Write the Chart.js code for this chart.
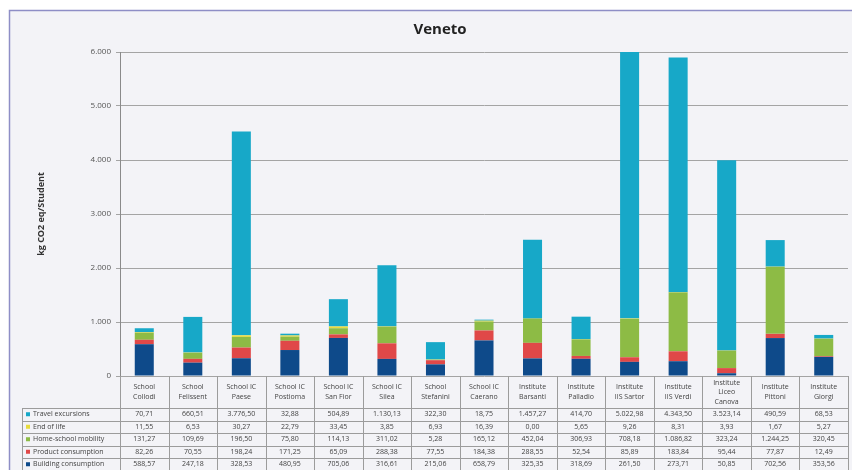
<!DOCTYPE html>
<html>
<head>
<meta charset="utf-8">
<script src="https://cdn.jsdelivr.net/npm/chart.js@4.4.1/dist/chart.umd.min.js"></script>
<style>
  html, body { margin: 0; padding: 0; background: #fff; }
  #wrap { width: 852px; height: 470px; }
</style>
</head>
<body>
<div id="wrap"><canvas id="veneto" width="852" height="470"></canvas></div>
<script>
// categories (schools / institutes)
const schools = [
  ['School', 'Collodi'], ['School', 'Felissent'], ['School IC', 'Paese'], ['School IC', 'Postioma'],
  ['School IC', 'San Fior'], ['School IC', 'Silea'], ['School', 'Stefanini'], ['School IC', 'Caerano'],
  ['Institute', 'Barsanti'], ['Institute', 'Palladio'], ['Institute', 'IIS Sartor'], ['Institute', 'IIS Verdi'],
  ['Institute', 'Liceo', 'Canova'], ['Institute', 'Pittoni'], ['Institute', 'Giorgi']
];

// kg CO2 eq / student
const travelExcursions = [70.71, 660.51, 3776.50, 32.88, 504.89, 1130.13, 322.30, 18.75, 1457.27, 414.70, 5022.98, 4343.50, 3523.14, 490.59, 68.53];
const endOfLife = [11.55, 6.53, 30.27, 22.79, 33.45, 3.85, 6.93, 16.39, 0.00, 5.65, 9.26, 8.31, 3.93, 1.67, 5.27];
const homeSchoolMobility = [131.27, 109.69, 196.50, 75.80, 114.13, 311.02, 5.28, 165.12, 452.04, 306.93, 708.18, 1086.82, 323.24, 1244.25, 320.45];
const productConsumption = [82.26, 70.55, 198.24, 171.25, 65.09, 288.38, 77.55, 184.38, 288.55, 52.54, 85.89, 183.84, 95.44, 77.87, 12.49];
const buildingConsumption = [588.57, 247.18, 328.53, 480.95, 705.06, 316.61, 215.06, 658.79, 325.35, 318.69, 261.50, 273.71, 50.85, 702.56, 353.56];

const yTicks = [0, 1000, 2000, 3000, 4000, 5000, 6000];

const FONT = '"Open Sans", "Liberation Sans", sans-serif';

// italian number format: 3.776,50
function itNum(v, dec) {
  const parts = v.toFixed(dec).split('.');
  parts[0] = parts[0].replace(/\B(?=(\d{3})+(?!\d))/g, '.');
  return parts.join(',');
}

// table rows, top to bottom (reverse of the stack)
const rows = [
  { name: 'Travel excursions', data: travelExcursions, color: '#17a8c8' },
  { name: 'End of life', data: endOfLife, color: '#e8dc3c' },
  { name: 'Home-school mobility', data: homeSchoolMobility, color: '#8dbb45' },
  { name: 'Product consumption', data: productConsumption, color: '#e04848' },
  { name: 'Building consumption', data: buildingConsumption, color: '#0e4a8a' }
];

const tablePlugin = {
  id: 'dataTable',
  beforeDraw(chart) {
    const ctx = chart.ctx;
    ctx.save();
    ctx.fillStyle = '#ffffff';
    ctx.fillRect(0, 0, chart.width, chart.height);
    ctx.fillStyle = '#f3f3f7';
    ctx.fillRect(9, 10, chart.width - 9, chart.height - 10);
    ctx.strokeStyle = '#8e8ec6';
    ctx.lineWidth = 1.5;
    ctx.beginPath();
    ctx.moveTo(9.5, chart.height);
    ctx.lineTo(9.5, 10.5);
    ctx.lineTo(chart.width, 10.5);
    ctx.stroke();
    ctx.restore();
  },
  afterDraw(chart) {
    const ctx = chart.ctx;
    const x = chart.scales.x;
    const area = chart.chartArea;
    const half = (x.getPixelForValue(1) - x.getPixelForValue(0)) / 2;
    const rowTop = 408, rowH = 12.5, legendLeft = 22;
    const tableBottom = rowTop + rows.length * rowH;

    ctx.save();
    ctx.strokeStyle = '#9c9c9c';
    ctx.lineWidth = 1;
    // vertical lines at category edges
    for (let i = 0; i <= schools.length; i++) {
      const px = Math.round(x.getPixelForValue(i) - half) + 0.5;
      ctx.beginPath();
      ctx.moveTo(px, area.bottom);
      ctx.lineTo(px, tableBottom);
      ctx.stroke();
    }
    // legend column left edge
    ctx.beginPath();
    ctx.moveTo(legendLeft + 0.5, rowTop);
    ctx.lineTo(legendLeft + 0.5, tableBottom);
    ctx.stroke();
    // horizontal row lines
    for (let r = 0; r <= rows.length; r++) {
      const py = Math.round(rowTop + r * rowH) + 0.5;
      ctx.beginPath();
      ctx.moveTo(legendLeft, py);
      ctx.lineTo(area.right, py);
      ctx.stroke();
    }

    // header labels
    ctx.fillStyle = '#444';
    ctx.font = '7px ' + FONT;
    ctx.textAlign = 'center';
    ctx.textBaseline = 'middle';
    schools.forEach((lines, i) => {
      const cx = x.getPixelForValue(i);
      const start = 392 - (lines.length - 1) * 9.5 / 2;
      lines.forEach((t, k) => ctx.fillText(t, cx, start + k * 9.5));
    });

    // rows
    rows.forEach((row, r) => {
      const cy = rowTop + r * rowH + rowH / 2;
      ctx.fillStyle = row.color;
      ctx.fillRect(legendLeft + 4, cy - 2, 4, 4);
      ctx.fillStyle = '#444';
      ctx.textAlign = 'left';
      ctx.fillText(row.name, legendLeft + 11, cy);
      ctx.textAlign = 'center';
      row.data.forEach((v, i) => ctx.fillText(itNum(v, 2), x.getPixelForValue(i), cy));
    });
    ctx.restore();
  }
};

new Chart(document.getElementById('veneto'), {
  type: 'bar',
  data: {
    labels: schools,
    datasets: rows.slice().reverse().map(row => ({
      label: row.name,
      data: row.data,
      backgroundColor: row.color,
      barPercentage: 0.49,
      categoryPercentage: 0.8
    }))
  },
  options: {
    responsive: false,
    animation: false,
    layout: { padding: { left: 32, right: 4, top: 0, bottom: 94 } },
    plugins: {
      legend: { display: false },
      tooltip: { enabled: false },
      title: {
        display: true,
        text: 'Veneto',
        color: '#222',
        font: { family: FONT, size: 15, weight: 'bold' },
        padding: { top: 21, bottom: 13 }
      }
    },
    scales: {
      x: { stacked: true, display: false },
      y: {
        stacked: true,
        min: 0,
        max: 6000,
        afterBuildTicks: axis => { axis.ticks = yTicks.map(v => ({ value: v })); },
        afterFit: axis => { axis.width = 88; },
        ticks: {
          color: '#555',
          font: { family: FONT, size: 8 },
          padding: 5,
          callback: v => itNum(v, 0)
        },
        grid: { color: '#a4a4a4', tickLength: 4, drawTicks: true },
        border: { color: '#8a8a8a' },
        title: {
          display: true,
          text: 'kg CO2 eq/Student',
          color: '#333',
          font: { family: FONT, size: 9, weight: 'bold' }
        }
      }
    }
  },
  plugins: [tablePlugin]
});
</script>
</body>
</html>
